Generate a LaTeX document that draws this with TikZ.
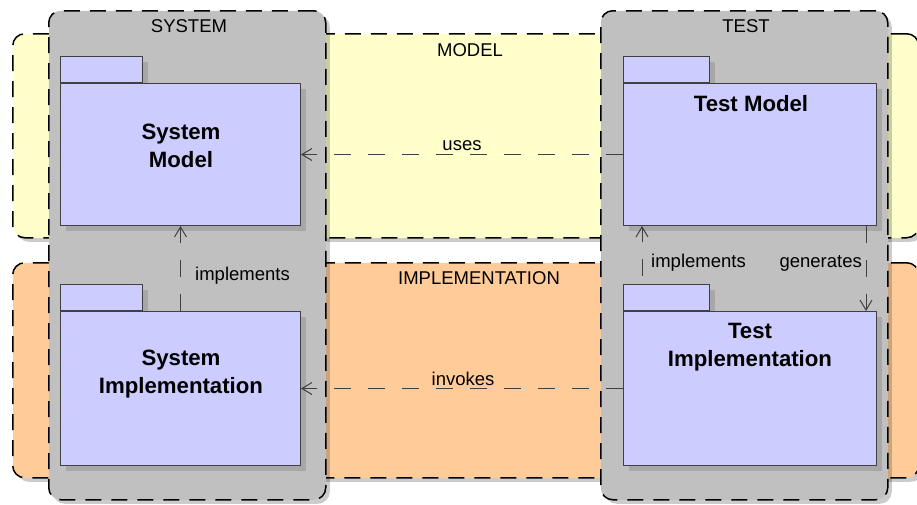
\documentclass[tikz,border=0pt]{standalone}
\usepackage{fontspec}
\setmainfont{Liberation Sans}
\usetikzlibrary{arrows.meta,shadows}
\definecolor{modelbg}{HTML}{FFFFCC}
\definecolor{implbg}{HTML}{FFCC99}
\definecolor{panelbg}{HTML}{C0C0C0}
\definecolor{pkgbg}{HTML}{CCCCFF}
\definecolor{pkgline}{HTML}{404040}

\tikzset{
  softshadow/.style={drop shadow={shadow xshift=4pt, shadow yshift=-4pt, opacity=0.2, fill=black}},
  region/.style={draw=black, line width=1.5pt, dash pattern=on 16pt off 10pt,
    rounded corners=12pt, inner sep=0pt, anchor=north west, softshadow},
  band/.style={region},
  panel/.style={region, fill=panelbg},
  pkgshadow/.style={drop shadow={shadow xshift=5pt, shadow yshift=-5pt, opacity=0.13, fill=black}},
  pkgtab/.style={draw=pkgline, fill=pkgbg, line width=1pt, inner sep=0pt,
    minimum width=82pt, minimum height=26pt, anchor=south west, pkgshadow},
  pkgbody/.style={draw=pkgline, fill=pkgbg, line width=1pt, inner sep=0pt,
    anchor=north west, pkgshadow},
  pkgtext/.style={font=\fontsize{22.2}{27.5}\selectfont\bfseries, align=center, inner sep=0pt},
  regionlabel/.style={font=\fontsize{18.5}{21}\selectfont, inner sep=0pt},
  deplabel/.style={font=\fontsize{18.5}{21}\selectfont, inner sep=0pt},
  dep/.style={draw=pkgline, line width=1pt, dash pattern=on 17pt off 17pt,
    -{Straight Barb[length=10pt,width=12pt]}},
}

\begin{document}
\begin{tikzpicture}[x=1pt, y=-1pt]
\useasboundingbox (0,0) rectangle (917,504);

% horizontal layers
\node[band, fill=modelbg, minimum width=906pt, minimum height=204pt] (modelband) at (12,33) {};
\node[band, fill=implbg, minimum width=906pt, minimum height=215pt] (implband) at (12,262) {};

% vertical columns
\node[panel, minimum width=277pt, minimum height=489pt] (syspanel) at (48,10) {};
\node[panel, minimum width=287pt, minimum height=489pt] (testpanel) at (600,10) {};

% region titles
\node[regionlabel] (modellbl) at (470,50) {MODEL};
\node[regionlabel] (impllbl) at (479,278) {IMPLEMENTATION};
\node[regionlabel] (syslbl) at (189,26) {SYSTEM};
\node[regionlabel] (testlbl) at (746,26) {TEST};

% package corners
\coordinate (smc) at (60,83);
\coordinate (tmc) at (623,83);
\coordinate (sic) at (60,311);
\coordinate (tic) at (623,311);

% packages: tab first, then body
\node[pkgtab] (smtab) at (smc) {};
\node[pkgbody, minimum width=240pt, minimum height=142pt] (sm) at (smc) {};
\node[pkgtab, minimum width=86pt] (tmtab) at (tmc) {};
\node[pkgbody, minimum width=253pt, minimum height=142pt] (tm) at (tmc) {};
\node[pkgtab] (sitab) at (sic) {};
\node[pkgbody, minimum width=240pt, minimum height=154pt] (si) at (sic) {};
\node[pkgtab, minimum width=86pt] (titab) at (tic) {};
\node[pkgbody, minimum width=253pt, minimum height=154pt] (ti) at (tic) {};

\node[pkgtext] (smtext) at (181,146) {System\\Model};
\node[pkgtext] (tmtext) at (751,104) {Test Model};
\node[pkgtext] (sitext) at (181,374) {System\\Implementation};
\node[pkgtext] (titext) at (750,347) {Test\\Implementation};

% dependencies
\draw[dep] (tm.west) -- (sm.east);
\draw[dep] (ti.west) -- (si.east);
\draw[dep] (si.north) -- (sm.south);
\draw[dep, dash phase=26pt] ([xshift=19pt]titab.north west) -- ([xshift=19pt]tm.south west);
\draw[dep] ([xshift=-11pt]tm.south east) -- ([xshift=-11pt]ti.north east);

\node[deplabel, anchor=base] (useslbl) at (462,150) {uses};
\node[deplabel, anchor=base] (invokeslbl) at (463,385) {invokes};
\node[deplabel, anchor=base west] (simpllbl) at (195,280) {implements};
\node[deplabel, anchor=base west] (timpllbl) at (651,267) {implements};
\node[deplabel, anchor=base east] (genlbl) at (862,267) {generates};
\end{tikzpicture}
\end{document}
